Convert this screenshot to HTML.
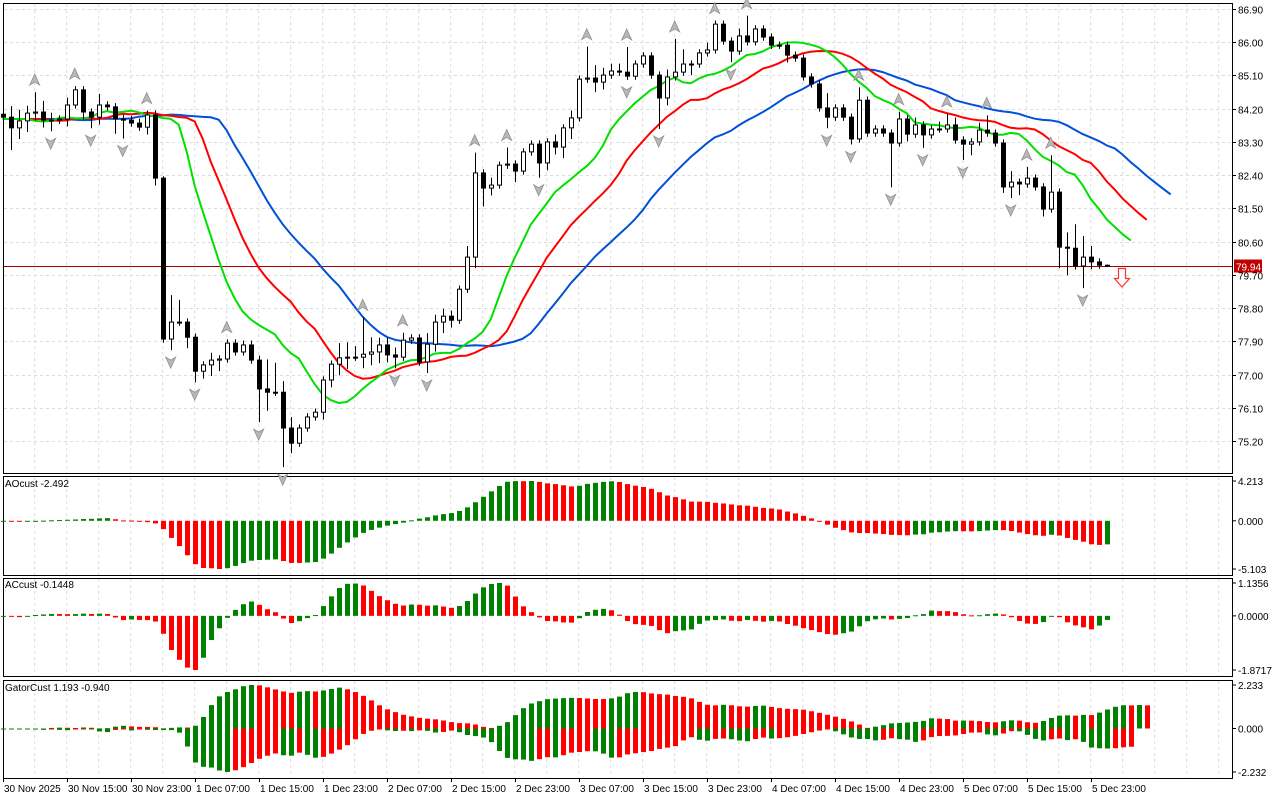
<!DOCTYPE html>
<html><head><meta charset="utf-8"><style>
html,body{margin:0;padding:0;background:#fff;}
svg{display:block;font-family:"Liberation Sans",sans-serif;}
</style></head><body>
<svg id="chart" width="1280" height="800" xmlns="http://www.w3.org/2000/svg"></svg>
<script>
// ---- data ----
const closes=[83.97,83.68,83.87,84.08,84.11,83.89,83.89,83.92,84.30,84.71,84.11,83.97,84.30,84.25,83.92,83.89,83.81,83.70,84.03,82.32,
77.96,78.42,78.42,78.01,77.09,77.26,77.39,77.42,77.85,77.61,77.80,77.39,76.61,76.52,76.52,75.55,75.14,75.55,75.85,75.98,
76.85,77.28,77.45,77.47,77.47,77.55,77.61,77.80,77.53,77.47,77.93,77.99,77.34,77.82,78.42,78.58,78.47,79.31,80.18,82.46,
82.05,82.13,82.67,82.70,82.51,83.03,83.24,82.73,83.30,83.16,83.68,83.95,85.00,85.03,84.92,85.11,85.22,85.19,85.08,85.41,
85.63,85.11,84.49,85.06,85.19,85.41,85.41,85.71,85.79,86.49,86.03,85.76,86.17,86.01,86.36,86.14,85.92,85.92,85.65,85.57,
85.06,84.87,84.22,83.97,84.22,83.97,83.38,84.43,83.54,83.65,83.54,83.27,83.92,83.51,83.76,83.49,83.65,83.65,83.76,83.35,
83.24,83.30,83.62,83.54,83.27,82.08,82.21,82.16,82.32,82.08,81.48,81.94,80.45,80.42,79.94,80.18,80.05,79.96,79.94];
const firstOpen=84.05;
const upperWick=[0.12,0.3,0.3,0.2,0.54,0.3,0.2,0.1,0.2,0.1,0.1,0.1,0.3,0.1,0.1,0.12,0.12,0.12,0.12,0.12,
0.05,0.73,0.6,0.1,0.1,0.1,0.2,0.1,0.1,0.1,0.12,0.12,0.12,0.8,0.8,0.3,0.3,0.1,0.1,0.1,
0.1,0.1,0.4,0.4,0.3,1.0,0.4,0.2,0.2,0.2,0.2,0.1,0.1,0.3,0.2,0.2,0.15,0.1,0.3,0.55,
0.1,0.2,0.1,0.45,0.1,0.1,0.1,0.1,0.1,0.2,0.1,0.2,0.1,0.85,0.35,0.2,0.2,0.2,0.68,0.1,
0.1,0.1,0.1,0.2,0.9,0.4,0.1,0.1,0.2,0.1,0.1,0.1,0.2,0.55,0.1,0.1,0.1,0.1,0.1,0.1,
0.1,0.1,0.1,0.4,0.1,0.1,0.1,0.35,0.1,0.1,0.1,0.1,0.2,0.1,0.2,0.1,0.1,0.2,0.3,0.2,
0.1,0.1,0.2,0.4,0.1,0.1,0.3,0.1,0.3,0.1,0.1,1.0,0.1,0.4,0.65,0.57,0.3,0.1,0.02];
const lowerWick=[0.3,0.6,0.3,0.3,0.2,0.2,0.3,0.1,0.2,0.1,0.2,0.3,0.2,0.1,0.4,0.5,0.1,0.1,0.2,0.2,
0.1,0.3,0.1,0.3,0.3,0.2,0.3,0.3,0.1,0.1,0.1,0.1,0.9,0.5,0.1,1.06,0.27,0.1,0.1,0.1,
0.2,0.2,0.3,0.3,0.1,0.3,0.3,0.3,0.2,0.3,0.1,0.1,0.1,0.3,0.2,0.3,0.2,0.1,0.1,0.3,
0.5,0.2,0.1,0.1,0.3,0.1,0.1,0.4,0.2,0.2,0.3,0.3,0.1,0.1,0.27,0.2,0.1,0.1,0.1,0.1,
0.1,0.1,0.84,0.2,0.1,0.1,0.3,0.1,0.1,0.1,0.1,0.3,0.1,0.1,0.1,0.1,0.1,0.1,0.2,0.1,
0.1,0.1,0.1,0.3,0.1,0.1,0.15,0.1,0.1,0.1,0.1,1.2,0.1,0.2,0.1,0.35,0.1,0.1,0.1,0.1,
0.43,0.3,0.1,0.1,0.1,0.16,0.3,0.3,0.1,0.1,0.2,0.1,0.57,0.73,0.1,0.6,0.2,0.1,0.02];
const priceTicks=[86.90,86.00,85.10,84.20,83.30,82.40,81.50,80.60,79.70,78.80,77.90,77.00,76.10,75.20];
const timeLabels=["30 Nov 2025","30 Nov 15:00","30 Nov 23:00","1 Dec 07:00","1 Dec 15:00","1 Dec 23:00","2 Dec 07:00","2 Dec 15:00","2 Dec 23:00","3 Dec 07:00","3 Dec 15:00","3 Dec 23:00","4 Dec 07:00","4 Dec 15:00","4 Dec 23:00","5 Dec 07:00","5 Dec 15:00","5 Dec 23:00"];
const currentPrice=79.94;

// ---- axes ----
const NS="http://www.w3.org/2000/svg";
const svg=document.getElementById('chart');
const X=i=>2.7+8*i;
const PY=p=>9+(86.90-p)*36.92;
const PLOT_R=1232;
function el(tag,attrs,parent){const e=document.createElementNS(NS,tag);for(const k in attrs)e.setAttribute(k,attrs[k]);(parent||svg).appendChild(e);return e;}
function txt(s,x,y,attrs){const t=el('text',Object.assign({x:x,y:y,'font-size':10,fill:'#000'},attrs||{}));t.textContent=s;return t;}

// derived OHLC
const opens=closes.map((c,i)=>i===0?firstOpen:closes[i-1]);
const highs=closes.map((c,i)=>Math.max(c,opens[i])+upperWick[i]);
const lows=closes.map((c,i)=>Math.min(c,opens[i])-lowerWick[i]);
const med=closes.map((c,i)=>(highs[i]+lows[i])/2);
function smma(n){let v=med[0];return med.map(m=>{v=(v*(n-1)+m)/n;return v;});}
const jaw=smma(13),teeth=smma(8),lips=smma(5);
const N=closes.length;
const atPos=(arr,shift,j)=>{const k=j-shift;return k<0?arr[0]:(k<N?arr[k]:null);};

// panels
const panels=[{t:3,b:473},{t:476,b:575},{t:578,b:676},{t:680,b:778}];
panels.forEach((p,idx)=>{
  const r=el('rect',{x:3.5,y:p.t+0.5,width:PLOT_R-3,height:p.b-p.t,fill:'none',stroke:'#000','stroke-width':1});
  
  
});
// vertical grid
for(let k=0;k<38;k++){const gx=34.7+32*k;if(gx>=PLOT_R)break;
  panels.forEach(p=>{const g=el('line',{x1:gx,x2:gx,y1:p.t+1,y2:p.b,stroke:'#dcdcdc','stroke-dasharray':'3,3'});
  });}
// horizontal grid + price ticks
priceTicks.forEach(p=>{const y=Math.round(PY(p))+0.5;
  if(y>5&&y<472){const g=el('line',{x1:4,x2:PLOT_R,y1:y,y2:y,stroke:'#dcdcdc','stroke-dasharray':'3,3'});
  }
  el('line',{x1:PLOT_R,x2:PLOT_R+4,y1:y,y2:y,stroke:'#000'});
  const t=txt(p.toFixed(2),1238,y+4);
});
// time labels
timeLabels.forEach((s,k)=>{const x=3+64*k;
  el('line',{x1:x+0.5,x2:x+0.5,y1:778,y2:782,stroke:'#000'});
  const t=txt(s,x+1,792);});

// current price line
const cpy=Math.round(PY(currentPrice))+0.5;
const cpl=el('line',{x1:4,x2:PLOT_R,y1:cpy,y2:cpy,stroke:'#a00000','stroke-width':1});


// alligator lines
function drawLine(arr,shift,color,name,endPos){let d='';
  for(let j=0;j<=endPos;j++){const v=atPos(arr,shift,j);if(v==null)break;d+=(j?'L':'M')+X(j).toFixed(1)+','+PY(v).toFixed(1);}
  const p=el('path',{d:d,fill:'none',stroke:color,'stroke-width':2});
  }
drawLine(jaw,8,'#0050d8','alligator-jaw',N-1+8);
drawLine(teeth,5,'#ff0000','alligator-teeth',N-1+5);
drawLine(lips,3,'#00e000','alligator-lips',N-1+3);

// candles
for(let i=0;i<N;i++){const x=Math.round(X(i));const o=opens[i],c=closes[i];
  const g=el('g',{});
  
  el('line',{x1:x+0.5,x2:x+0.5,y1:PY(highs[i]),y2:PY(lows[i]),stroke:'#000'},g);
  const top=PY(Math.max(o,c)),bot=PY(Math.min(o,c));
  el('rect',{x:x-2+0.5,y:top,width:4,height:Math.max(bot-top,1),fill:c>=o?'#fff':'#000',stroke:'#000'},g);
}
// fractals
for(let i=2;i<N-2;i++){
  if(highs[i]>highs[i-1]&&highs[i]>highs[i-2]&&highs[i]>=highs[i+1]&&highs[i]>=highs[i+2]){
    const x=X(i),y=PY(highs[i])-12;
    const f=el('polygon',{points:`${x},${y-6} ${x+5},${y+5} ${x},${y+2} ${x-5},${y+5}`,fill:'#b8b8b8',stroke:'#909090','stroke-width':0.8});
    }
  if(lows[i]<lows[i-1]&&lows[i]<lows[i-2]&&lows[i]<=lows[i+1]&&lows[i]<=lows[i+2]){
    const x=X(i),y=PY(lows[i])+12;
    const f=el('polygon',{points:`${x},${y+6} ${x+5},${y-5} ${x},${y-2} ${x-5},${y-5}`,fill:'#b8b8b8',stroke:'#909090','stroke-width':0.8});
    }
}
// signal arrow
const sa=el('polygon',{points:'1118.5,268.5 1125.5,268.5 1125.5,278.5 1129.5,278.5 1122,287 1114.5,278.5 1118.5,278.5',fill:'#fff',stroke:'#ff3030','stroke-width':1.2});

// current price tag
const tag=el('rect',{x:1234,y:cpy-7,width:28,height:13,fill:'#c00000'});

const tt=txt(currentPrice.toFixed(2),1236,cpy+4,{fill:'#fff'});


// ---- oscillators ----
function sma(arr,n,i){let s=0;for(let k=0;k<n;k++){s+=arr[Math.max(0,i-k)];}return s/n;}
const ao=med.map((m,i)=>sma(med,5,i)-sma(med,34,i));
const ac=ao.map((v,i)=>v-sma(ao,5,i));
function drawHist(vals,panel,name,labelTop,labelBot,fmt,positions){
  const top=panel.t+5,bot=panel.b-6;
  let mx=Math.max(...vals.filter(v=>v!=null)),mn=Math.min(...vals.filter(v=>v!=null));
  const Y=v=>top+(mx-v)/(mx-mn)*(bot-top);
  const y0=Y(0);
  vals.forEach((v,i)=>{if(v==null)return;const x=Math.round(positions?X(positions[i]):X(i));
    const prev=i>0?vals[i-1]:v;const col=(Math.abs(v)>=Math.abs(prev)?(name==='ao'||name==='ac'?(v>=prev):true):(name==='ao'||name==='ac'?(v>=prev):false))?'#008000':'#ff0000';
    const r=el('rect',{x:x-2,y:Math.min(Y(v),y0),width:5,height:Math.max(Math.abs(Y(v)-y0),1),fill:col});
    });
  [[mx,Y(mx)],[0,y0],[mn,Y(mn)]].forEach(([v,y])=>{el('line',{x1:PLOT_R,x2:PLOT_R+4,y1:y,y2:y,stroke:'#000'});
    const t=txt(fmt(v),1238,y+4);});
  return Y;
}
drawHist(ao,panels[1],'ao',0,0,v=>v.toFixed(3));
drawHist(ac,panels[2],'ac',0,0,v=>v.toFixed(4));
// gator
const gp=panels[3];const gUp=[],gDn=[];
for(let j=0;j<N+5;j++){const jw=atPos(jaw,8,j),th=atPos(teeth,5,j),lp=atPos(lips,3,j);
  gUp.push(jw!=null&&th!=null?Math.abs(jw-th):null);gDn.push(th!=null&&lp!=null?-Math.abs(th-lp):null);}
const gmax=Math.max(...gUp.filter(v=>v!=null)),gmin=Math.min(...gDn.filter(v=>v!=null));
const gTop=gp.t+5,gBot=gp.b-6;const GY=v=>gTop+(gmax-v)/(gmax-gmin)*(gBot-gTop);const g0=GY(0);
[gUp,gDn].forEach((arr,s)=>arr.forEach((v,j)=>{if(v==null)return;const prev=j>0&&arr[j-1]!=null?arr[j-1]:v;
  const col=Math.abs(v)>=Math.abs(prev)?'#008000':'#ff0000';const x=Math.round(X(j));
  const r=el('rect',{x:x-2,y:Math.min(GY(v),g0),width:5,height:Math.max(Math.abs(GY(v)-g0),1),fill:col});
  }));
[[gmax,GY(gmax)],[0,g0],[gmin,GY(gmin)]].forEach(([v,y])=>{el('line',{x1:PLOT_R,x2:PLOT_R+4,y1:y,y2:y,stroke:'#000'});
  const t=txt(v.toFixed(3),1238,y+4);});

// panel titles
const t1=txt('AOcust -2.492',5,487);
const t2=txt('ACcust -0.1448',5,588);
const t3=txt('GatorCust 1.193 -0.940',5,691);
</script>
</body></html>
